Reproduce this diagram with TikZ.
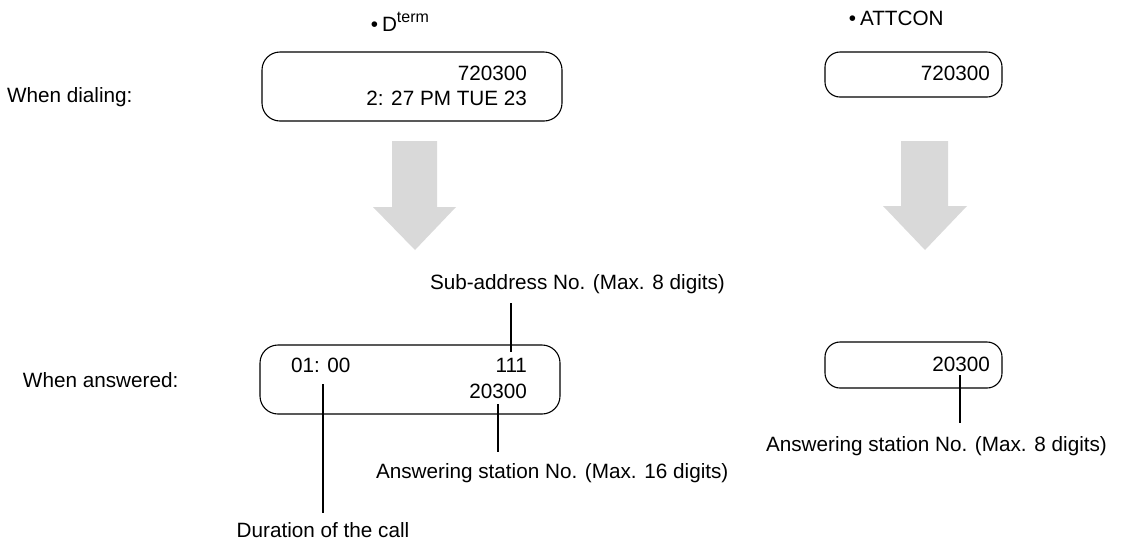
\documentclass[tikz,border=0pt]{standalone}
\usepackage{fontspec}
\setmainfont{Liberation Sans}
\begin{document}
\begin{tikzpicture}[x=1pt,y=-1pt,
  every node/.style={inner sep=0pt,outer sep=0pt,font=\fontsize{20.7}{25}\selectfont},
  dispbox/.style={draw=black,line width=1.1pt,rounded corners=18pt},
  leader/.style={draw=black,line width=2pt},
  bigarrow/.style={fill=black!15,draw=none}]
\useasboundingbox (0,0) rectangle (1130,542);
% titles
\node[anchor=base west] (tD) at (370.8,31) {•\hspace{4pt}D\raisebox{9pt}{\fontsize{16}{16}\selectfont term}};
\node[anchor=base west] (tA) at (848.8,25) {•\hspace{4pt}ATTCON};
% row labels
\node[anchor=base west] (ldial) at (7,102) {When dialing:};
\node[anchor=base west] (lans) at (23,387) {When answered:};
% dialing boxes
\node[dispbox,minimum width=300pt,minimum height=69pt] (dbox1) at (412,86.5) {};
\node[anchor=base east] (d1a) at (527,80) {720300};
\node[anchor=base east] (d1b) at (527,105) {2: 27 PM TUE 23};
\node[dispbox,rounded corners=15pt,minimum width=177pt,minimum height=45pt] (abox1) at (913.5,74.5) {};
\node[anchor=base east] (a1a) at (990,80) {720300};
% arrows
\fill[bigarrow] (392,141) -- (437,141) -- (437,207) -- (456,207) -- (415,250) -- (373,207) -- (392,207) -- cycle;
\fill[bigarrow] (901,141) -- (948,141) -- (948,206) -- (967,206) -- (925,250) -- (883,206) -- (901,206) -- cycle;
% answered boxes
\node[dispbox,minimum width=300pt,minimum height=69pt] (dbox2) at (410,379.5) {};
\node[anchor=base west] (d2dur) at (291,372) {01: 00};
\node[anchor=base east] (d2sub) at (527,372) {111};
\node[anchor=base east] (d2num) at (527,398) {20300};
\node[dispbox,rounded corners=15pt,minimum width=177pt,minimum height=46pt] (abox2) at (913.5,365) {};
\node[anchor=base east] (a2num) at (990,371) {20300};
% callout labels
\node[anchor=base west] (lsub) at (430,289) {Sub-address No. (Max. 8 digits)};
\node[anchor=base west] (lans16) at (376,478) {Answering station No. (Max. 16 digits)};
\node[anchor=base] (ldur) at (323,537) {Duration of the call};
\node[anchor=base west] (lans8) at (766,451) {Answering station No. (Max. 8 digits)};
% leader ends
\coordinate (subTop) at (511,303);
\coordinate (subBot) at (511,352);
\coordinate (durTop) at (323,384);
\coordinate (durBot) at (323,513);
\coordinate (numTop) at (498,404);
\coordinate (numBot) at (498,452);
\coordinate (aTop) at (960,375);
\coordinate (aBot) at (960,423);
\draw[leader] (subTop) -- (subBot);
\draw[leader] (durTop) -- (durBot);
\draw[leader] (numTop) -- (numBot);
\draw[leader] (aTop) -- (aBot);
\end{tikzpicture}
\end{document}
